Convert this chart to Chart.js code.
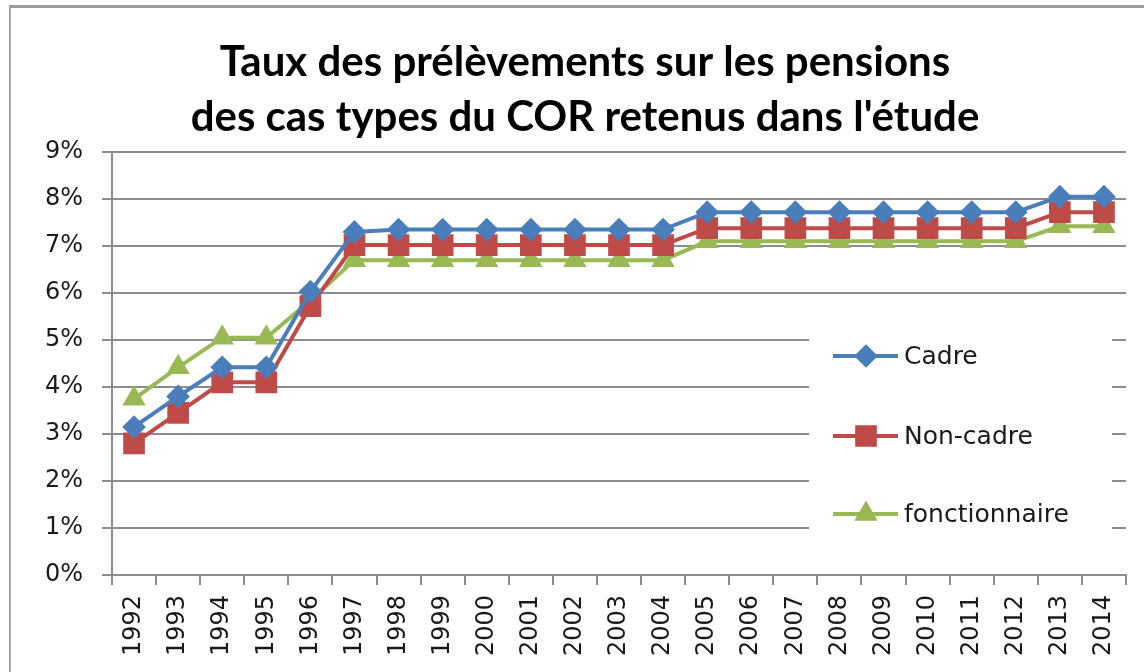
<!DOCTYPE html>
<html>
<head>
<meta charset="utf-8">
<script src="https://cdn.jsdelivr.net/npm/chart.js@4/dist/chart.umd.min.js"></script>
<style>
  html, body { margin: 0; padding: 0; background: #fff; overflow: hidden; }
  #cadre-fond {
    position: absolute; left: 9px; top: 5px; width: 1200px; height: 720px;
    border-left: 2px solid #a6a6a6; border-top: 3px solid #9a9a9a;
  }
  #zone { position: absolute; left: 0; top: 0; width: 1144px; height: 672px; }
</style>
</head>
<body>
<div id="cadre-fond"></div>
<div id="zone"><canvas id="grafico-prelevements" width="1144" height="672"></canvas></div>
<script>
// Années (axe des x)
const annees = ['1992', '1993', '1994', '1995', '1996', '1997', '1998', '1999', '2000', '2001', '2002', '2003',
  '2004', '2005', '2006', '2007', '2008', '2009', '2010', '2011', '2012', '2013', '2014'];

// Taux (%)
const cadre = [3.15, 3.8, 4.42, 4.42, 6.03, 7.3, 7.35, 7.35, 7.35, 7.35, 7.35, 7.35,
  7.35, 7.72, 7.72, 7.72, 7.72, 7.72, 7.72, 7.72, 7.72, 8.05, 8.05];
const nonCadre = [2.8, 3.45, 4.1, 4.1, 5.72, 7.02, 7.02, 7.02, 7.02, 7.02, 7.02, 7.02,
  7.02, 7.38, 7.38, 7.38, 7.38, 7.38, 7.38, 7.38, 7.38, 7.72, 7.72];
const fonctionnaire = [3.75, 4.42, 5.05, 5.05, 5.84, 6.7, 6.7, 6.7, 6.7, 6.7, 6.7, 6.7,
  6.7, 7.1, 7.1, 7.1, 7.1, 7.1, 7.1, 7.1, 7.1, 7.42, 7.42];

const titre = ['Taux des prélèvements sur les pensions', "des cas types du COR retenus dans l'étude"];

// Légende dessinée à l'intérieur de la zone du graphique
const legendeInterne = {
  id: 'legendeInterne',
  afterDraw(chart) {
    const ctx = chart.ctx;
    ctx.save();
    ctx.fillStyle = '#fff';
    ctx.fillRect(809, 310, 303, 240);
    const lignesY = [356, 436, 514];
    chart.data.datasets.forEach((ds, i) => {
      const y = lignesY[i];
      ctx.strokeStyle = ds.borderColor;
      ctx.lineWidth = 4;
      ctx.beginPath();
      ctx.moveTo(833, y);
      ctx.lineTo(898, y);
      ctx.stroke();
      ctx.fillStyle = ds.backgroundColor;
      Chart.helpers.drawPoint(ctx, {
        pointStyle: ds.pointStyle, radius: ds.pointRadius, borderWidth: 1, rotation: 0
      }, 866, y);
      ctx.fillStyle = '#1a1a1a';
      ctx.font = '25px "DejaVu Sans"';
      ctx.textBaseline = 'middle';
      ctx.textAlign = 'left';
      ctx.fillText(ds.label, 904, y + 1);
    });
    ctx.restore();
  }
};

const ctx = document.getElementById('grafico-prelevements').getContext('2d');

new Chart(ctx, {
  type: 'line',
  data: {
    labels: annees,
    datasets: [
      {
        label: 'Cadre',
        data: cadre,
        borderColor: '#4A7EBB',
        backgroundColor: '#4A7EBB',
        pointStyle: 'rectRot',
        pointRadius: 9,
        borderWidth: 4,
        tension: 0
      },
      {
        label: 'Non-cadre',
        data: nonCadre,
        borderColor: '#BE4B48',
        backgroundColor: '#BE4B48',
        pointStyle: 'rect',
        pointRadius: 12.5,
        borderWidth: 4,
        tension: 0
      },
      {
        label: 'fonctionnaire',
        data: fonctionnaire,
        borderColor: '#98B954',
        backgroundColor: '#98B954',
        pointStyle: 'triangle',
        pointRadius: 9.5,
        borderWidth: 4,
        tension: 0
      }
    ]
  },
  options: {
    responsive: false,
    animation: false,
    layout: { padding: { left: 44, right: 18, top: 0, bottom: 0 } },
    plugins: {
      legend: { display: false },
      tooltip: { enabled: false },
      title: {
        display: true,
        text: titre,
        color: '#000',
        font: { family: 'Lato', size: 42, weight: 'bold', lineHeight: 1.31 },
        padding: { top: 35, bottom: 7 }
      }
    },
    scales: {
      x: {
        offset: true,
        afterFit(scale) { scale.height = 97; },
        grid: { offset: true, drawOnChartArea: false, tickLength: 10, color: '#8c8c8c', lineWidth: 2 },
        border: { color: '#8c8c8c', width: 2 },
        ticks: {
          maxRotation: 90, minRotation: 90, padding: 10, autoSkip: false,
          color: '#1a1a1a', font: { family: 'DejaVu Sans', size: 24 }
        }
      },
      y: {
        min: 0,
        max: 9,
        afterFit(scale) { scale.width = 68; },
        grid: { tickLength: 10, color: '#8c8c8c', lineWidth: 2 },
        border: { color: '#8c8c8c', width: 2 },
        ticks: {
          stepSize: 1, padding: 19,
          color: '#1a1a1a', font: { family: 'DejaVu Sans', size: 24 },
          callback: v => v + '%'
        }
      }
    }
  },
  plugins: [legendeInterne]
});
</script>
</body>
</html>
